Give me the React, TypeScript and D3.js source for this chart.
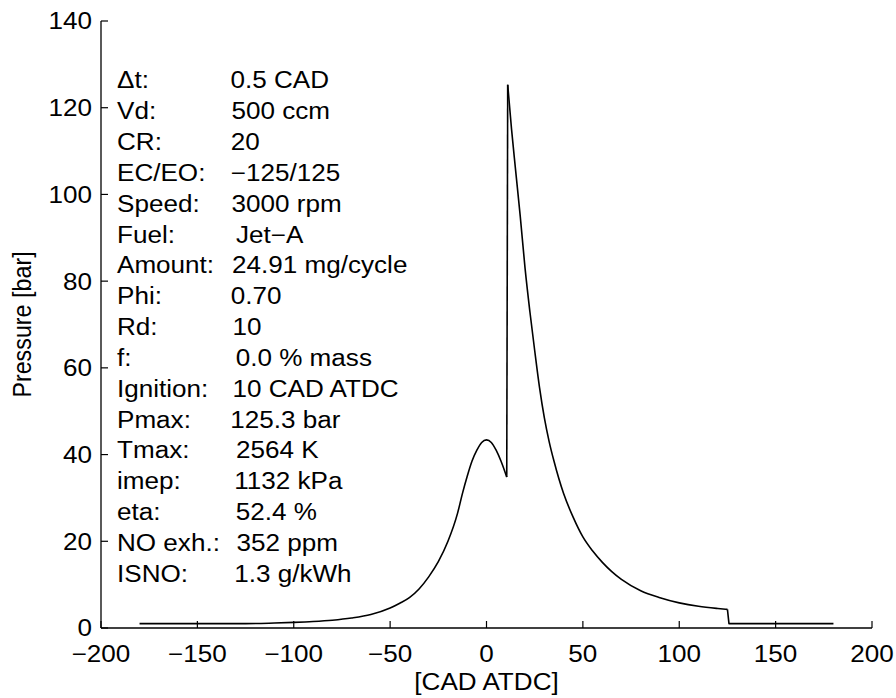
import React from "react";
import * as d3 from "d3";

// Compression stroke (CAD, bar)
const compCad = [-180, -150, -125, -110, -100, -90, -80, -70, -60, -50, -45, -40, -35, -30, -25, -20, -15, -12.5, -10, -7.5, -5, -2.5, 0, 2.5, 5, 7.5, 10.5];
const compP = [1.0, 1.0, 1.0, 1.15, 1.3, 1.5, 1.8, 2.3, 3.1, 4.6, 5.7, 7.0, 9.0, 11.8, 15.3, 20.0, 26.5, 31.0, 35.0, 38.5, 41.0, 42.8, 43.4, 42.8, 41.0, 38.5, 34.8];
// Expansion stroke after ignition
const expCad = [10.5, 11, 13, 15, 17.5, 20, 22.5, 25, 27.5, 30, 32.5, 35, 40, 45, 50, 55, 60, 65, 70, 80, 90, 100, 110, 120, 125];
const expP = [34.8, 125.3, 115, 106, 95, 83, 73, 64, 55.5, 48.5, 43, 38.5, 31, 25.5, 21, 17.8, 15.2, 13, 11.2, 8.6, 7.0, 5.8, 5.0, 4.5, 4.3];
// Exhaust
const exhCad = [125, 125.8, 150, 180];
const exhP = [4.3, 1.0, 1.0, 1.0];

const xTicks = [-200, -150, -100, -50, 0, 50, 100, 150, 200];
const yTicks = [0, 20, 40, 60, 80, 100, 120, 140];

const infoLabels = ["\u0394t:", "Vd:", "CR:", "EC/EO:", "Speed:", "Fuel:", "Amount:", "Phi:", "Rd:", "f:", "Ignition:", "Pmax:", "Tmax:", "imep:", "eta:", "NO exh.:", "ISNO:"];
const infoValues = ["0.5 CAD", "500 ccm", "20", "\u2212125/125", "3000 rpm", "Jet\u2212A", "24.91 mg/cycle", "0.70", "10", "0.0 % mass", "10 CAD ATDC", "125.3 bar", "2564 K", "1132 kPa", "52.4 %", "352 ppm", "1.3 g/kWh"];
// layout: x origin of each value column entry
const infoValueX = [230.5, 231.5, 230.7, 230.7, 231.5, 236, 232, 230.7, 232.5, 235.7, 232.5, 230.2, 236, 234.2, 235.7, 236.5, 234.2];

const SX = 1.12;
const FS = 23.3;

function T(props: { x: number; y: number; anchor?: string; dy?: string; rotate?: number; children: React.ReactNode }) {
  const { x, y, anchor = "start", dy, rotate, children } = props;
  return (
    <g transform={`translate(${x},${y}) scale(${SX},1)${rotate ? ` rotate(${rotate})` : ""}`}>
      <text x={0} y={0} dy={dy} textAnchor={anchor} fontSize={FS} fill="#000">{children}</text>
    </g>
  );
}

export default function App() {
  const W = 896, H = 698;
  const left = 101, right = 872, top = 21, bottom = 628;
  const x = d3.scaleLinear().domain([-200, 200]).range([left, right]);
  const y = d3.scaleLinear().domain([0, 140]).range([bottom, top]);
  const font = "'Liberation Sans', Arial, Helvetica, sans-serif";

  const smooth = d3.line<[number, number]>().x(d => x(d[0])).y(d => y(d[1])).curve(d3.curveMonotoneX);
  const straight = d3.line<[number, number]>().x(d => x(d[0])).y(d => y(d[1]));

  const comp = compCad.map((c, i) => [c, compP[i]] as [number, number]);
  const jump = expCad.slice(0, 2).map((c, i) => [c, expP[i]] as [number, number]);
  const exp = expCad.slice(1).map((c, i) => [c, expP[i + 1]] as [number, number]);
  const exh = exhCad.map((c, i) => [c, exhP[i]] as [number, number]);

  const tick = 7;
  return (
    <svg width={W} height={H} style={{ position: "absolute", left: 0, top: 0, background: "#fff" }} fontFamily={font}>
      <rect x={0} y={0} width={W} height={H} fill="#fff" />
      {/* axes */}
      <line x1={x(-200)} x2={x(200)} y1={y(0)} y2={y(0)} stroke="#000" strokeWidth={1.3} />
      <line x1={x(-200)} x2={x(-200)} y1={y(0)} y2={y(140)} stroke="#000" strokeWidth={1.3} />
      {xTicks.map(t => (
        <g key={"xt" + t}>
          <line x1={x(t)} x2={x(t)} y1={y(0)} y2={y(0) - tick} stroke="#000" strokeWidth={1.2} />
          <T x={x(t)} y={662} anchor="middle">{d3.format("")(t)}</T>
        </g>
      ))}
      {yTicks.map(t => (
        <g key={"yt" + t}>
          <line x1={x(-200)} x2={x(-200) + tick} y1={y(t)} y2={y(t)} stroke="#000" strokeWidth={1.2} />
          <T x={92} y={y(t)} dy="0.36em" anchor="end">{t}</T>
        </g>
      ))}
      <T x={(left + right) / 2} y={690} anchor="middle">[CAD ATDC]</T>
      <T x={31} y={(top + bottom) / 2} anchor="middle" rotate={-90}>Pressure [bar]</T>
      {/* info */}
      {infoLabels.map((l, i) => (
        <g key={"info" + i}>
          <T x={117} y={88.4 + 30.83 * i}>{l}</T>
          <T x={infoValueX[i]} y={88.4 + 30.83 * i}>{infoValues[i]}</T>
        </g>
      ))}
      {/* curve */}
      <g fill="none" stroke="#000" strokeWidth={1.6} strokeLinejoin="round">
        <path d={smooth(comp) || ""} />
        <path d={straight(jump) || ""} />
        <path d={smooth(exp) || ""} />
        <path d={straight(exh) || ""} />
      </g>
    </svg>
  );
}
